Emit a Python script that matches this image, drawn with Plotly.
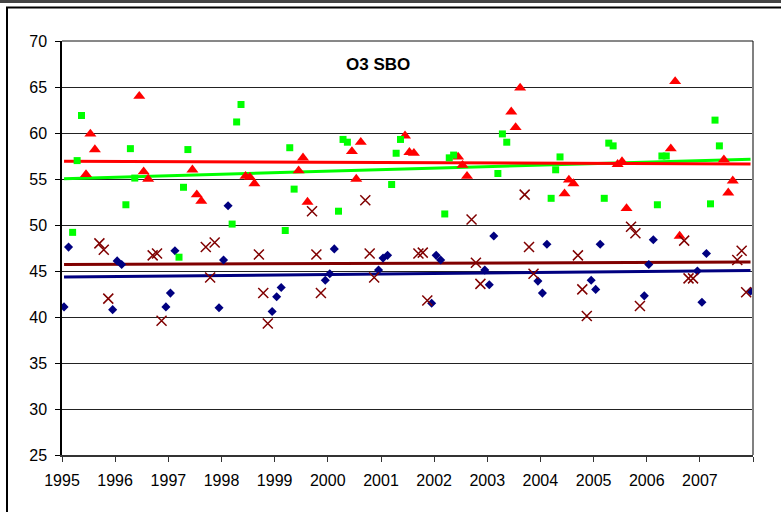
import plotly.graph_objects as go

# ---- data ----
years = list(range(1995, 2008))

# winter: Jan, Feb, Dec of each year
winter_months = [1, 2, 12]
winter_vals = [
    [41.1, 47.6, 40.8], [46.1, 45.7, 41.1], [42.6, 47.2, 41.0], [46.2, 52.1, 40.6],
    [42.2, 43.2, 44.0], [44.7, 47.4, 45.1], [46.4, 46.7, 41.5], [46.7, 46.2, 45.1],
    [43.5, 48.8, 43.9], [42.6, 47.9, 44.0], [43.0, 47.9, 42.3], [45.7, 48.4, 45.0],
    [41.6, 46.9, 42.8],
]
# summer: Jun, Jul, Aug
summer_months = [6, 7, 8]
summer_vals = [
    [55.5, 59.9, 58.2], [64.0, 55.8, 55.0], [56.0, 53.3, 52.6], [55.3, 55.2, 54.5],
    [55.9, 57.3, 52.5], [58.0, 55.0, 59.0], [59.7, 57.9, 57.8], [57.4, 56.5, 55.3],
    [62.3, 60.6, 64.9], [53.4, 54.9, 54.5], [56.6, 56.9, 51.8], [58.3, 65.6, 48.8],
    [57.1, 53.5, 54.8],
]
# spring: Mar, Apr, May
spring_months = [3, 4, 5]
spring_vals = [
    [49.2, 57.0, 61.9], [52.2, 58.3, 55.1], [46.5, 54.1, 58.2], [50.1, 61.2, 63.1],
    [49.4, 58.4, 53.9], [51.5, 59.3, 59.0], [54.4, 57.8, 59.3], [51.2, 57.3, 57.6],
    [55.6, 59.9, 59.0], [52.9, 56.0, 57.4], [52.9, 58.9, 58.6], [52.2, 57.5, 57.5],
    [52.3, 61.4, 58.6],
]
# autumn: Sep, Oct, Nov
autumn_months = [9, 10, 11]
autumn_vals = [
    [48.0, 47.3, 42.0], [46.7, 46.9, 39.6], [47.6, 44.3, 48.1], [46.8, 42.6, 39.3],
    [51.5, 46.8, 42.6], [52.7, 46.9, 44.3], [46.9, 47.0, 41.8], [50.6, 45.9, 43.6],
    [53.3, 47.6, 44.7], [46.7, 43.0, 40.1], [49.8, 49.1, 41.2], [48.3, 44.2, 44.2],
    [46.2, 47.2, 42.7],
]

# linear trend lines: value at first month and at last month
trend_dates = ["1995-01-15", "2007-12-15"]
trend_winter = [44.35, 45.05]
trend_summer = [56.93, 56.64]
trend_spring = [55.04, 57.15]
trend_autumn = [45.70, 45.97]

title_text = "O3 SBO"
tick_years = list(range(1995, 2009))
tick_labels = [str(y) for y in range(1995, 2008)] + [""]


def series_dates(months, vals):
    xs, ys = [], []
    for yr, row in zip(years, vals):
        for m, v in zip(months, row):
            xs.append(f"{yr}-{m:02d}-15")
            ys.append(v)
    return xs, ys


# ---- styling ----
C_BLUE = "#000080"
C_RED = "#FF0000"
C_GREEN = "#00FF00"
C_BROWN = "#800000"
FONT = "Liberation Sans, Arial, sans-serif"

fig = go.Figure()

for vals, col in [(trend_winter, C_BLUE), (trend_autumn, C_BROWN),
                  (trend_spring, C_GREEN), (trend_summer, C_RED)]:
    fig.add_trace(go.Scatter(x=trend_dates, y=vals, mode="lines",
                             line=dict(color=col, width=3), hoverinfo="skip"))

x, y = series_dates(winter_months, winter_vals)
fig.add_trace(go.Scatter(x=x, y=y, mode="markers", name="Winter",
                         marker=dict(symbol="diamond", size=7, color=C_BLUE)))
x, y = series_dates(summer_months, summer_vals)
fig.add_trace(go.Scatter(x=x, y=y, mode="markers", name="Summer",
                         marker=dict(symbol="triangle-up", size=10.5, color=C_RED)))
x, y = series_dates(spring_months, spring_vals)
fig.add_trace(go.Scatter(x=x, y=y, mode="markers", name="Spring",
                         marker=dict(symbol="square", size=7, color=C_GREEN)))
x, y = series_dates(autumn_months, autumn_vals)
fig.add_trace(go.Scatter(x=x, y=y, mode="markers", name="Autumn",
                         marker=dict(symbol="x-thin", size=10,
                                     line=dict(color=C_BROWN, width=1.5))))

L, R, T, B = 62, 28, 41, 57
W, H = 781, 512
pw, ph = W - L - R, H - T - B


def px(v):
    return (v - L) / pw


def py(v):
    return (H - B - v) / ph


fig.update_layout(
    width=W, height=H,
    margin=dict(l=L, r=R, t=T, b=B),
    paper_bgcolor="white", plot_bgcolor="white",
    showlegend=False,
    font=dict(family=FONT, size=16, color="black"),
    xaxis=dict(
        type="date",
        range=["1995-01-01", "2008-01-01"],
        tickvals=[f"{y}-01-01" for y in tick_years],
        ticktext=tick_labels,
        ticks="outside", ticklen=5, tickcolor="#333", tickwidth=1,
        showgrid=False, zeroline=False,
        showline=True, linecolor="#333", linewidth=2,
        ticklabelstandoff=5,
        tickfont=dict(size=16, family=FONT, color="black"),
    ),
    yaxis=dict(
        range=[25, 70], tickvals=list(range(25, 71, 5)),
        ticks="outside", ticklen=5, tickcolor="black", tickwidth=1,
        showgrid=True, gridcolor="#222", gridwidth=1,
        zeroline=False,
        showline=True, linecolor="black", linewidth=1.5,
        ticklabelstandoff=5,
        tickfont=dict(size=16, family=FONT, color="black"),
    ),
    annotations=[dict(
        text=f"<b>{title_text}</b>", x=px(377.5), y=py(64),
        xref="paper", yref="paper", showarrow=False,
        xanchor="center", yanchor="middle",
        font=dict(size=17, family=FONT, color="black"),
    )],
    shapes=[
        # plot-area right border
        dict(type="line", xref="paper", yref="paper", x0=1, x1=1, y0=0, y1=1,
             line=dict(color="#808080", width=2)),
        # top gridline at 70
        dict(type="line", xref="paper", yref="paper", x0=0, x1=1, y0=1, y1=1,
             line=dict(color="#111", width=1)),
        # outer chart frame
        dict(type="line", xref="paper", yref="paper", x0=px(0), x1=px(W),
             y0=py(1.5), y1=py(1.5), line=dict(color="#444", width=3)),
        dict(type="line", xref="paper", yref="paper", x0=px(6), x1=px(W),
             y0=py(7.5), y1=py(7.5), line=dict(color="black", width=2)),
        dict(type="line", xref="paper", yref="paper", x0=px(7), x1=px(7),
             y0=py(7.5), y1=py(H), line=dict(color="black", width=2)),
    ],
)

fig.write_html("out.html", config={"displayModeBar": False})

# remove the browser's default 8px body margin so the figure sits at (0, 0)
with open("out.html", "r", encoding="utf-8") as f:
    html = f.read()
html = html.replace("<head>", "<head><style>html,body{margin:0;padding:0;overflow:hidden;}</style>", 1)
with open("out.html", "w", encoding="utf-8") as f:
    f.write(html)
